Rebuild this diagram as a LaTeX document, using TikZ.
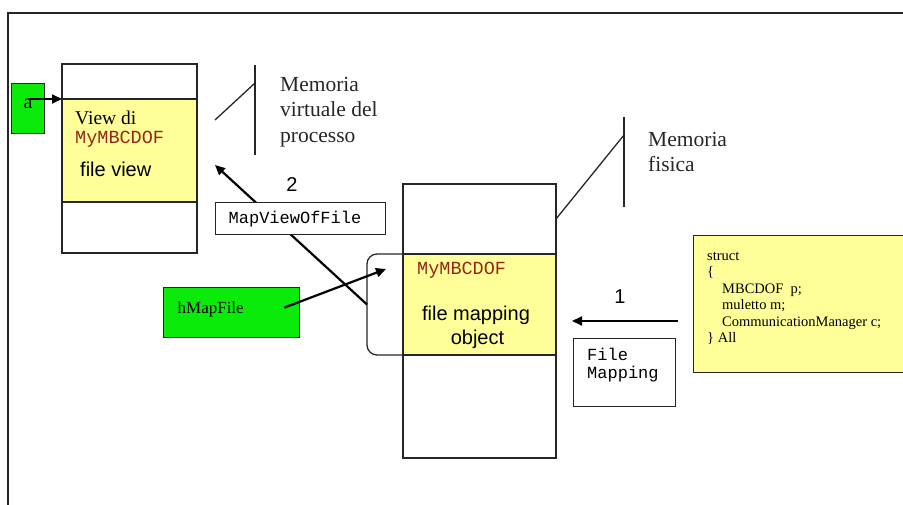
\documentclass[tikz,border=0pt]{standalone}
\usepackage{fontspec}
\setmainfont{Liberation Serif}
\setsansfont{Liberation Sans}
\setmonofont{Liberation Mono}
\usetikzlibrary{arrows.meta,positioning}

\definecolor{memyellow}{RGB}{255,255,153}
\definecolor{handlegreen}{RGB}{10,235,10}
\definecolor{codered}{RGB}{150,40,25}

\begin{document}
\begin{tikzpicture}[
  x=1pt, y=-1pt,
  cell/.style={rectangle, draw=black!85, line width=1.3pt, fill=white, inner sep=0pt, outer sep=0pt},
  mem/.style={cell, fill=memyellow},
  handle/.style={rectangle, draw=black!85, line width=1.3pt, fill=handlegreen,
                 inner sep=0pt, font=\fontsize{20}{20}\selectfont},
  apibox/.style={rectangle, draw=black!85, line width=1.3pt, fill=white, align=left,
                 inner ysep=0pt, inner xsep=13pt, font=\fontsize{17}{18}\ttfamily},
  code/.style={font=\fontsize{18.5}{20}\ttfamily, text=codered, inner sep=0pt, anchor=west},
  lbl/.style={font=\fontsize{20}{24}\sffamily, inner sep=0pt},
  note/.style={font=\fontsize{21.5}{25.5}\selectfont, text=black!85, align=left,
               inner sep=0pt, anchor=west},
  thin/.style={line width=1.3pt, black!85},
  arr/.style={-{Triangle[length=10pt, width=9pt]}, line width=2.2pt, black}
]
\useasboundingbox (0,0) rectangle (903,505);
\draw[line width=1.5pt, black!85] (8,505) -- (8,13) -- (903,13);

% process view
\node[cell, minimum width=135pt, minimum height=35pt, anchor=north west] (viewtop) at (62,64) {};
\node[mem, minimum width=135pt, minimum height=103pt, below=0pt of viewtop] (viewmid) {};
\node[cell, minimum width=135pt, minimum height=51pt, below=0pt of viewmid] (viewbot) {};
\node[inner sep=0pt, anchor=west, font=\fontsize{19.5}{22}\selectfont] (viewname) at (75,118) {View di};
\node[code] (viewcode) at (75,139) {MyMBCDOF};
\node[lbl, anchor=west] (viewlbl) at (80,169) {file view};

% file mapping object
\node[cell, minimum width=153pt, minimum height=70pt, anchor=north west] (maptop) at (403,184) {};
\node[mem, minimum width=153pt, minimum height=101pt, below=0pt of maptop] (mapmid) {};
\node[cell, minimum width=153pt, minimum height=103pt, below=0pt of mapmid] (mapbot) {};
\node[code] (mapcode) at (417,270) {MyMBCDOF};
\node[lbl, align=center] (maplbl) at (476,327) {file mapping\\ \hspace*{3pt}object};

% memory labels
\draw[thin] (255,65) -- (255,155);
\draw[thin] (215,120) -- (255,83);
\node[note] (virt) at (280,112) {Memoria\\virtuale del\\processo};
\draw[thin] (624,117) -- (624,207);
\draw[thin] (maptop.east) -- (624,135);
\node[note] (phys) at (648,152) {Memoria\\fisica};

% handles
\node[handle, minimum width=33pt, minimum height=50pt, text depth=9pt, anchor=north west] (avar) at (11,83) {a};
\draw[arr] (avar.center |- viewtop.south west) -- (viewtop.south west);
\node[handle, minimum width=136pt, minimum height=50pt, text depth=10pt, inner xsep=14pt,
      text width=108pt, align=left, anchor=north west, font=\fontsize{17}{20}\selectfont] (hmap) at (163,287) {hMapFile};

% bracket round the mapping object
\draw[thin, rounded corners=10pt] (mapmid.north west) -| ([xshift=-36pt]mapmid.west)
  coordinate (hook) |- (mapmid.south west);

% step 2
\coordinate (viewtip) at (215,165);
\draw[arr] (hook) -- (viewtip);
\node[apibox, minimum width=170pt, minimum height=32pt, text width=144pt, anchor=north west] (mapview) at (215,202) {MapViewOfFile};
\node[lbl] (two) at (292,185) {2};
\draw[arr] ([xshift=-16pt, yshift=5pt]hmap.east) -- ([xshift=-17pt, yshift=-15pt]mapmid.north west);

% step 1
\node[rectangle, draw=black!85, line width=1.3pt, fill=memyellow, minimum width=230pt,
      minimum height=137pt, anchor=north west] (allstruct) at (693,235) {};
\node[anchor=north west, inner sep=0pt, align=left, font=\fontsize{14.5}{16.5}\selectfont] (structtxt) at (707,252)
  {struct\\ \{\\ \hspace*{15pt}MBCDOF\ \ p;\\ \hspace*{15pt}muletto m;\\
   \hspace*{15pt}CommunicationManager c;\\ \} All};
\node[rectangle, draw=black!85, line width=1.3pt, fill=white, minimum width=102pt,
      minimum height=68pt, anchor=north west] (createmap) at (573,338) {};
\node[anchor=north west, inner sep=0pt, align=left, font=\fontsize{17}{18}\ttfamily] (createtxt) at (587,348) {File\\Mapping};
\node[lbl] (one) at (620,297) {1};
\draw[arr] ([xshift=-15pt]allstruct.west |- 0,321) -- (572,321);
\end{tikzpicture}
\end{document}
